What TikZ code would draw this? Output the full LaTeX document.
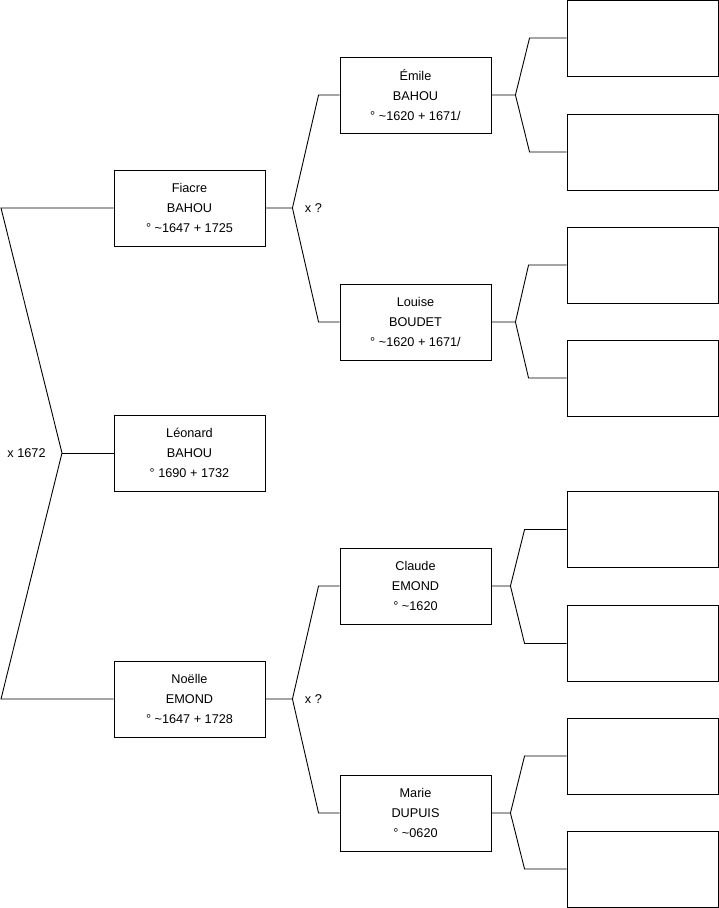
\documentclass[tikz,border=0pt]{standalone}
\usepackage{fontspec}
\setmainfont{Liberation Sans}

\begin{document}
\begin{tikzpicture}[x=1pt,y=-1pt,line width=0.9pt,
  person/.style={draw,minimum width=151pt,minimum height=76pt,inner sep=0pt,
    align=center,font=\fontsize{12.7}{20}\selectfont},
  blank/.style={draw,minimum width=151pt,minimum height=76pt,inner sep=0pt},
  link/.style={draw,line width=0.9pt},
  union/.style={anchor=west,inner sep=0pt,font=\fontsize{12.7}{15}\selectfont}]
\useasboundingbox (0,0) rectangle (719,908);
% génération 1 : l'enfant
\node[person] (leonard) at (189.5,453) {Léonard\\BAHOU\\° 1690 + 1732};
% génération 2 : les parents
\node[person] (fiacre) at (189.5,208) {Fiacre\\BAHOU\\° \textasciitilde1647 + 1725};
\node[person] (noelle) at (189.5,699) {Noëlle\\EMOND\\° \textasciitilde1647 + 1728};
% génération 3 : les grands-parents
\node[person] (emile)  at (415.5,95)  {Émile\\BAHOU\\° \textasciitilde1620 + 1671/};
\node[person] (louise) at (415.5,322) {Louise\\BOUDET\\° \textasciitilde1620 + 1671/};
\node[person] (claude) at (415.5,586) {Claude\\EMOND\\° \textasciitilde1620};
\node[person] (marie)  at (415.5,813) {Marie\\DUPUIS\\° \textasciitilde0620};
% génération 4 : cases vides
\foreach \n/\y in {a1/38,a2/152,a3/265,a4/378,a5/529.5,a6/643.5,a7/756,a8/869}{
  \node[blank] (\n) at (642.5,\y) {};
}
% mariage des parents
\coordinate (mtop) at (1,208);
\coordinate (mj)   at (62,453);
\coordinate (mbot) at (1,699);
\draw[link] (fiacre.west) -- (mtop) -- (mj) -- (mbot) -- (noelle.west);
\draw[link] (mj) -- (leonard.west);
\node[union] at (7,453) {x 1672};
% mariages des grands-parents
\foreach \p/\a/\b in {fiacre/emile/louise,noelle/claude/marie}{
  \draw[link] (\p.east) -- ++(27,0) coordinate (j)
    -- ([xshift=-21pt]\a.west) -- (\a.west);
  \draw[link] (j) -- ([xshift=-21pt]\b.west) -- (\b.west);
  \node[union] at ([xshift=12pt]j) {x ?};
}
% branches vers la génération 4
\foreach \p/\a/\b/\j/\e in {emile/a1/a2/24/37,louise/a3/a4/24/38,
                            claude/a5/a6/19/42,marie/a7/a8/19/42}{
  \draw[link] (\p.east) -- ++(\j,0) coordinate (k)
    -- ([xshift=-\e pt]\a.west) -- (\a.west);
  \draw[link] (k) -- ([xshift=-\e pt]\b.west) -- (\b.west);
}
\end{tikzpicture}
\end{document}
